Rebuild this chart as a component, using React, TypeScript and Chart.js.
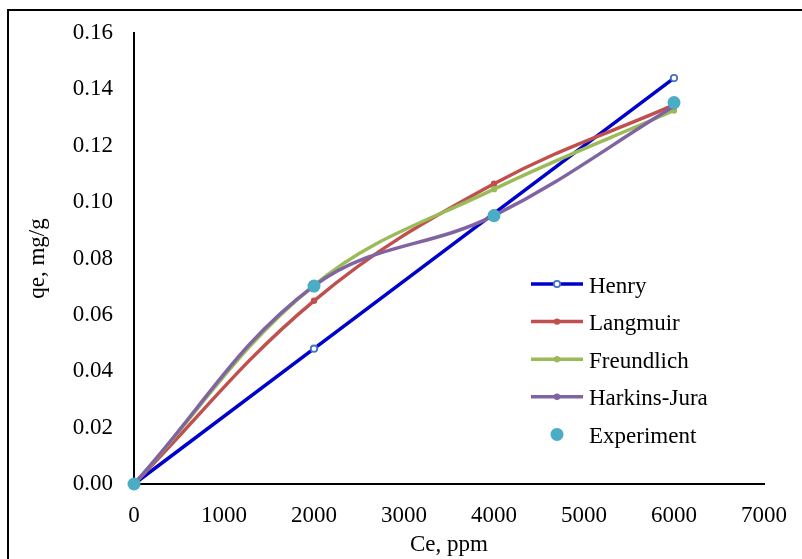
import React, { useEffect, useRef } from "react";
import { Chart, registerables } from "chart.js";

Chart.register(...registerables);

const ceValues = [0, 2000, 4000, 6000];
const henry = [0, 0.048, 0.096, 0.144];
const langmuir = [0, 0.065, 0.1065, 0.1345];
const freundlich = [0, 0.0705, 0.1046, 0.1325];
const harkinsJura = [0, 0.0703, 0.0952, 0.134];
const experiment = [0, 0.0702, 0.0952, 0.1353];

const seriesNames = ["Henry", "Langmuir", "Freundlich", "Harkins-Jura", "Experiment"];

const FONT = "'Liberation Serif', 'Times New Roman', serif";

const toXY = (ys: number[]) => ceValues.map((x, i) => ({ x, y: ys[i] }));

const legendPlugin = {
  id: "customLegend",
  afterDatasetsDraw(chart: any) {
    const ctx = chart.ctx as CanvasRenderingContext2D;
    const x0 = 531;
    const x1 = 583;
    const xm = 557;
    const tx = 589;
    const y0 = 284;
    const dy = 37.6;
    ctx.save();
    chart.data.datasets.forEach((ds: any, i: number) => {
      const y = y0 + i * dy;
      if (ds.showLine !== false) {
        ctx.beginPath();
        ctx.strokeStyle = ds.borderColor;
        ctx.lineWidth = ds.borderWidth;
        ctx.lineCap = "butt";
        ctx.moveTo(x0, y);
        ctx.lineTo(x1, y);
        ctx.stroke();
      }
      ctx.beginPath();
      ctx.arc(xm, y, ds.pointRadius, 0, Math.PI * 2);
      ctx.fillStyle = ds.pointBackgroundColor;
      ctx.fill();
      if (ds.pointBorderWidth > 0) {
        ctx.lineWidth = ds.pointBorderWidth;
        ctx.strokeStyle = ds.pointBorderColor;
        ctx.stroke();
      }
      ctx.fillStyle = "#000";
      ctx.font = `23px ${FONT}`;
      ctx.textBaseline = "alphabetic";
      ctx.textAlign = "left";
      ctx.fillText(seriesNames[i], tx, y + 8.5);
    });
    ctx.restore();
  },
};

export default function App() {
  const ref = useRef<HTMLCanvasElement | null>(null);

  useEffect(() => {
    if (!ref.current) return;
    const lineDs = (label: string, data: number[], color: string, tension: number, order: number) => ({
      label,
      data: toXY(data),
      borderColor: color,
      backgroundColor: color,
      borderWidth: 3.5,
      tension,
      pointRadius: 3.2,
      pointBackgroundColor: color,
      pointBorderColor: color,
      pointBorderWidth: 0,
      clip: false as any,
      order,
    });
    const henryDs = {
      ...lineDs("Henry", henry, "#0000CC", 0, 4),
      pointBackgroundColor: "#FFFFFF",
      pointBorderColor: "#4472C4",
      pointBorderWidth: 1.8,
      pointRadius: 3.2,
    };
    const expDs = {
      label: "Experiment",
      data: toXY(experiment),
      showLine: false,
      borderColor: "#4BACC6",
      backgroundColor: "#4BACC6",
      borderWidth: 0,
      pointRadius: 6.5,
      pointBackgroundColor: "#4BACC6",
      pointBorderColor: "#4BACC6",
      pointBorderWidth: 0,
      clip: false as any,
      order: 0,
    };
    const chart = new Chart(ref.current, {
      type: "line",
      data: {
        datasets: [
          henryDs,
          lineDs("Langmuir", langmuir, "#C0504D", 0.38, 3),
          lineDs("Freundlich", freundlich, "#9BBB59", 0.38, 2),
          lineDs("Harkins-Jura", harkinsJura, "#8064A2", 0.38, 1),
          expDs,
        ] as any,
      },
      options: {
        responsive: false,
        animation: false,
        layout: { padding: { top: 33, right: 38, bottom: 0, left: 0 } },
        plugins: {
          legend: { display: false },
          tooltip: { enabled: false },
        },
        scales: {
          x: {
            type: "linear",
            min: 0,
            max: 7000,
            ticks: {
              stepSize: 1000,
              color: "#000",
              font: { family: FONT, size: 23 },
              padding: 10,
              maxRotation: 0,
              callback: (v: any) => String(Math.round(Number(v))),
            },
            grid: { display: false },
            border: { display: true, color: "#000", width: 2 },
            title: {
              display: true,
              text: "Ce, ppm",
              color: "#000",
              font: { family: FONT, size: 23 },
              padding: { top: 0, bottom: 0 },
            },
            afterFit: (s: any) => {
              s.height = 75;
            },
          },
          y: {
            type: "linear",
            min: 0,
            max: 0.16,
            ticks: {
              stepSize: 0.02,
              color: "#000",
              font: { family: FONT, size: 23 },
              padding: 13,
              callback: (v: any) => Number(v).toFixed(2),
            },
            grid: { display: false },
            border: { display: true, color: "#000", width: 2 },
            title: {
              display: true,
              text: "qe, mg/g",
              color: "#000",
              font: { family: FONT, size: 23 },
              padding: { top: 24, bottom: 0 },
            },
            afterFit: (s: any) => {
              s.width = 134;
            },
          },
        },
      },
      plugins: [legendPlugin],
    });
    return () => chart.destroy();
  }, []);

  return (
    <div style={{ position: "fixed", left: 0, top: 0, width: 802, height: 559, overflow: "hidden", background: "#fff" }}>
      <canvas ref={ref} width={802} height={559} style={{ display: "block" }} />
      <div
        style={{
          position: "absolute",
          left: 7,
          top: 9,
          width: 900,
          height: 700,
          border: "2px solid #000",
          pointerEvents: "none",
        }}
      />
    </div>
  );
}
